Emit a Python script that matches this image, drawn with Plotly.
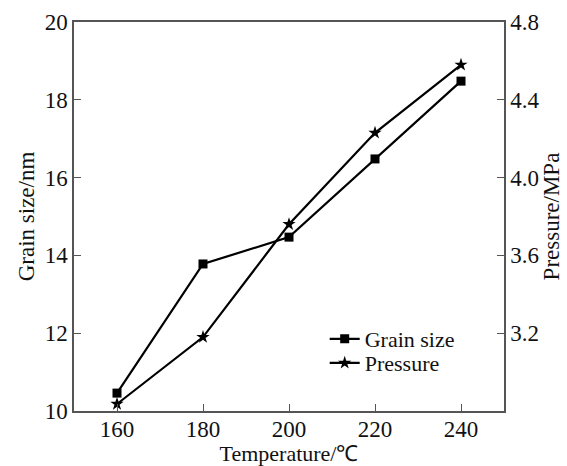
import plotly.graph_objects as go

temperature = [160, 180, 200, 220, 240]
grain_size = [10.46, 13.78, 14.47, 16.48, 18.48]
pressure = [2.836, 3.18, 3.76, 4.23, 4.58]

x_ticks = [160, 180, 200, 220, 240]
y1_ticks = [10, 12, 14, 16, 18, 20]
y2_ticks = [3.2, 3.6, 4.0, 4.4, 4.8]
y2_labels = ["3.2", "3.6", "4.0", "4.4", "4.8"]

FONT = "Liberation Serif, Times New Roman, serif"
AX = "#555555"
FS = 23

fig = go.Figure()
fig.add_trace(go.Scatter(
    x=temperature, y=grain_size, name="Grain size", mode="lines+markers",
    line=dict(color="black", width=2.2),
    marker=dict(symbol="square", size=9, color="black"),
    yaxis="y", legend="legend"))
fig.add_trace(go.Scatter(
    x=temperature, y=pressure, name="Pressure", mode="lines+markers",
    line=dict(color="black", width=2.2),
    marker=dict(symbol="star", size=10, color="black"),
    yaxis="y2", legend="legend2"))

leg_common = dict(xanchor="left", yanchor="middle", bgcolor="rgba(0,0,0,0)",
                  font=dict(size=FS - 1, family=FONT, color="#111111"), itemwidth=30)

fig.update_layout(
    width=567, height=466,
    margin=dict(l=74, r=63, t=22, b=55),
    paper_bgcolor="white", plot_bgcolor="white",
    font=dict(family=FONT, size=FS, color="#111111"),
    showlegend=True,
    legend=dict(x=0.583, y=(411 - 339) / 389, **leg_common),
    legend2=dict(x=0.583, y=(411 - 363) / 389, **leg_common),
    xaxis=dict(range=[150, 250], tickvals=x_ticks, ticks="inside", ticklen=7,
               tickcolor=AX, linecolor=AX, linewidth=1.5, showline=True,
               mirror=True, showgrid=False, zeroline=False, automargin=False,
               ticklabelstandoff=-3,
               title=dict(text="Temperature/℃", font=dict(size=FS - 1), standoff=0),
               tickfont=dict(size=FS)),
    yaxis=dict(range=[10, 20], tickvals=y1_ticks, ticks="inside", ticklen=7,
               tickcolor=AX, linecolor=AX, linewidth=1.5, showline=True,
               showgrid=False, zeroline=False, automargin=False,
               title=dict(text="Grain size/nm", font=dict(size=FS), standoff=4),
               tickfont=dict(size=FS)),
    yaxis2=dict(range=[2.8, 4.8], tickvals=y2_ticks, ticktext=y2_labels,
                overlaying="y", side="right", ticks="inside", ticklen=7,
                tickcolor=AX, linecolor=AX, linewidth=1.5, showline=True,
                showgrid=False, zeroline=False, automargin=False,
                title=dict(text="Pressure/MPa", font=dict(size=FS), standoff=4),
                tickfont=dict(size=FS)),
)

fig.write_html("out.html", config={"displayModeBar": False},
               post_script="document.body.style.margin='0';document.body.style.overflow='hidden';")
